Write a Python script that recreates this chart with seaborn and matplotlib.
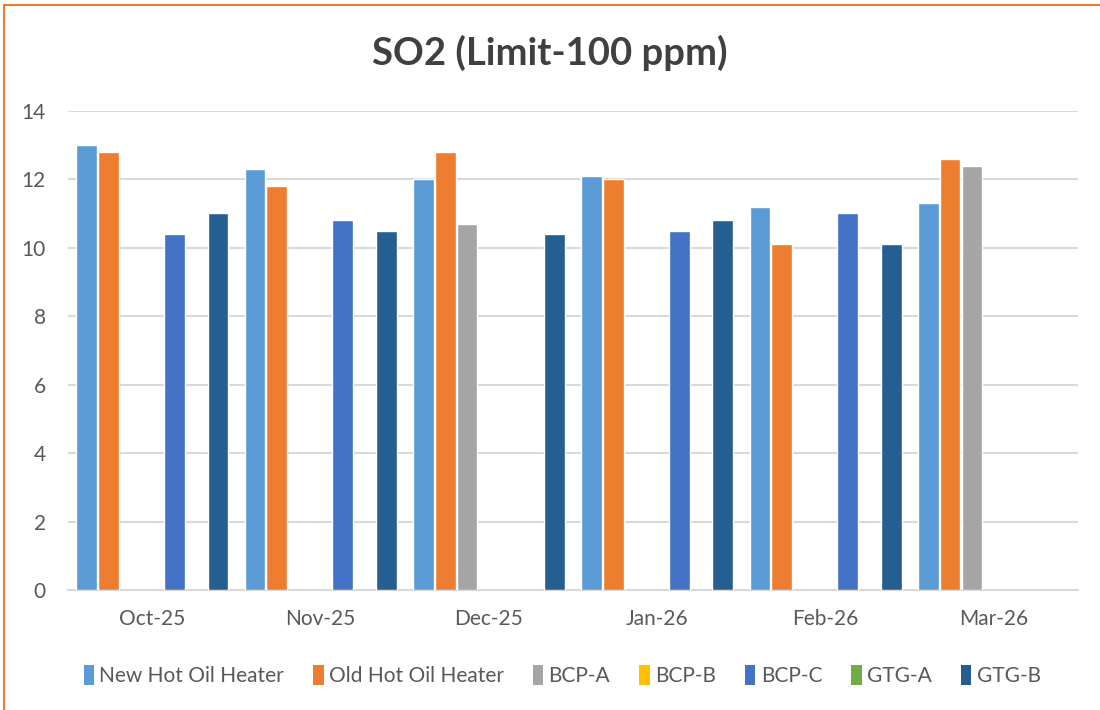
import pandas as pd
import numpy as np
import matplotlib.pyplot as plt
import seaborn as sns
from matplotlib.patches import Patch, Rectangle

# data (NaN = no bar)
months = ["Oct-25", "Nov-25", "Dec-25", "Jan-26", "Feb-26", "Mar-26"]
series = ["New Hot Oil Heater", "Old Hot Oil Heater", "BCP-A", "BCP-B", "BCP-C", "GTG-A", "GTG-B"]

new_hot_oil = [13.0, 12.3, 12.0, 12.1, 11.2, 11.3]
old_hot_oil = [12.8, 11.8, 12.8, 12.0, 10.1, 12.6]
bcp_a = [np.nan, np.nan, 10.7, np.nan, np.nan, 12.4]
bcp_b = [np.nan] * 6
bcp_c = [10.4, 10.8, np.nan, 10.5, 11.0, np.nan]
gtg_a = [np.nan] * 6
gtg_b = [11.0, 10.5, 10.4, 10.8, 10.1, np.nan]

colors = ["#5B9BD5", "#ED7D31", "#A5A5A5", "#FFC000", "#4472C4", "#70AD47", "#255E91"]

values = [new_hot_oil, old_hot_oil, bcp_a, bcp_b, bcp_c, gtg_a, gtg_b]
rows = []
for name, vals in zip(series, values):
    for m, v in zip(months, vals):
        rows.append({"month": m, "series": name, "so2": v})
df = pd.DataFrame(rows).dropna()

sns.set_theme(style="white")
plt.rcParams["font.family"] = ["Lato", "DejaVu Sans"]

fig = plt.figure(figsize=(11, 7.1), dpi=100)
ax = fig.add_axes([0.062, 0.169, 0.918, 0.675])

sns.barplot(data=df, x="month", y="so2", hue="series", order=months,
            hue_order=series, palette=dict(zip(series, colors)),
            width=0.91, gap=0.05, saturation=1, ax=ax, legend=False, zorder=3)

ax.set_ylim(0, 14)
ax.set_yticks(range(0, 15, 2))
ax.grid(axis="y", color="#D9D9D9", linewidth=1.5, zorder=0)
ax.set_axisbelow(True)
for s in ["top", "right", "left"]:
    ax.spines[s].set_visible(False)
ax.spines["bottom"].set_color("#D9D9D9")
ax.spines["bottom"].set_linewidth(1.5)
ax.tick_params(axis="both", length=0, labelsize=15, colors="#595959")
ax.tick_params(axis="x", pad=14)
ax.tick_params(axis="y", pad=16)
ax.set_xlabel("")
ax.set_ylabel("")

fig.text(0.5, 0.925, "SO2 (Limit-100 ppm)", ha="center", va="center",
         fontsize=27.5, fontweight="bold", color="#404040")

handles = [Patch(facecolor=c, edgecolor="none") for c in colors]
fig.legend(handles, series, loc="center", bbox_to_anchor=(0.511, 0.049), ncol=7,
           frameon=False, fontsize=15, labelcolor="#595959",
           handlelength=0.5, handleheight=1.1, handletextpad=0.25, columnspacing=1.4)

# orange chart border (only top and left edges visible in the crop)
fig.patches.append(Rectangle((0.004, -0.1), 1.2, 1.093, transform=fig.transFigure,
                             fill=False, edgecolor="#ED7D31", linewidth=1.5))

fig.savefig("out.png", dpi=100)
